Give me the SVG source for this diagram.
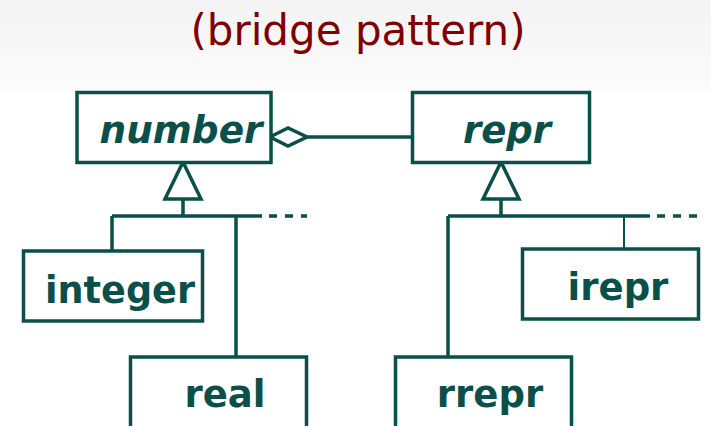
<svg xmlns="http://www.w3.org/2000/svg" width="711" height="426" viewBox="0 0 711 426">
<defs>
<linearGradient id="hdr" x1="0" y1="0" x2="0" y2="1">
<stop offset="0" stop-color="#f3f3f3"/>
<stop offset="1" stop-color="#fcfcfc"/>
</linearGradient>
</defs>
<style>
.box{fill:#fff;stroke:#0a4f49;stroke-width:3.5}
.ln{fill:none;stroke:#0a4f49;stroke-width:3.5}
.lbl{font-family:"DejaVu Sans",sans-serif;font-weight:bold;font-size:37px;fill:#0a4f49;text-anchor:middle}
.abs{font-style:italic}
.title{font-family:"DejaVu Sans",sans-serif;font-size:42px;fill:#7f0000;text-anchor:middle}
</style>
<rect x="0" y="0" width="711" height="426" fill="#fff"/>
<rect x="0" y="0" width="711" height="91" fill="url(#hdr)"/>
<text class="title" x="358" y="45">(bridge pattern)</text>

<g id="connectors">
<path class="ln" d="M307 137 H412"/>
<polygon class="ln" points="270,137 288,128 307,137 288,146" fill="#fff"/>
<polygon class="ln" points="183,162 201,199 165,199" fill="#fff"/>
<path class="ln" d="M183 199 V216 M112 216 H262 M112 216 V251 M236 216 V357"/>
<path class="ln" d="M269 216 H307" stroke-dasharray="8 8"/>
<polygon class="ln" points="501,162 519,199 483,199" fill="#fff"/>
<path class="ln" d="M501 199 V216 M448 216 H650 M448 216 V357"/>
<path class="ln" d="M624 216 V249" style="stroke-width:2"/>
<path class="ln" d="M657 216 H697" stroke-dasharray="8 8"/>
</g>

<g id="number">
<rect class="box" x="77" y="92.5" width="194" height="70"/>
<text class="lbl abs" x="181" y="143" textLength="163" lengthAdjust="spacingAndGlyphs">number</text>
</g>
<g id="repr">
<rect class="box" x="412.5" y="92.5" width="177" height="70"/>
<text class="lbl abs" x="507" y="143">repr</text>
</g>
<g id="integer">
<rect class="box" x="23.5" y="251" width="179" height="70"/>
<text class="lbl" x="120" y="303" textLength="150" lengthAdjust="spacingAndGlyphs">integer</text>
</g>
<g id="real">
<rect class="box" x="130.5" y="357" width="176" height="100"/>
<text class="lbl" x="225" y="407">real</text>
</g>
<g id="irepr">
<rect class="box" x="522.5" y="249" width="176" height="70"/>
<text class="lbl" x="618" y="300">irepr</text>
</g>
<g id="rrepr">
<rect class="box" x="395.5" y="357" width="176" height="100"/>
<text class="lbl" x="490" y="407">rrepr</text>
</g>
</svg>
